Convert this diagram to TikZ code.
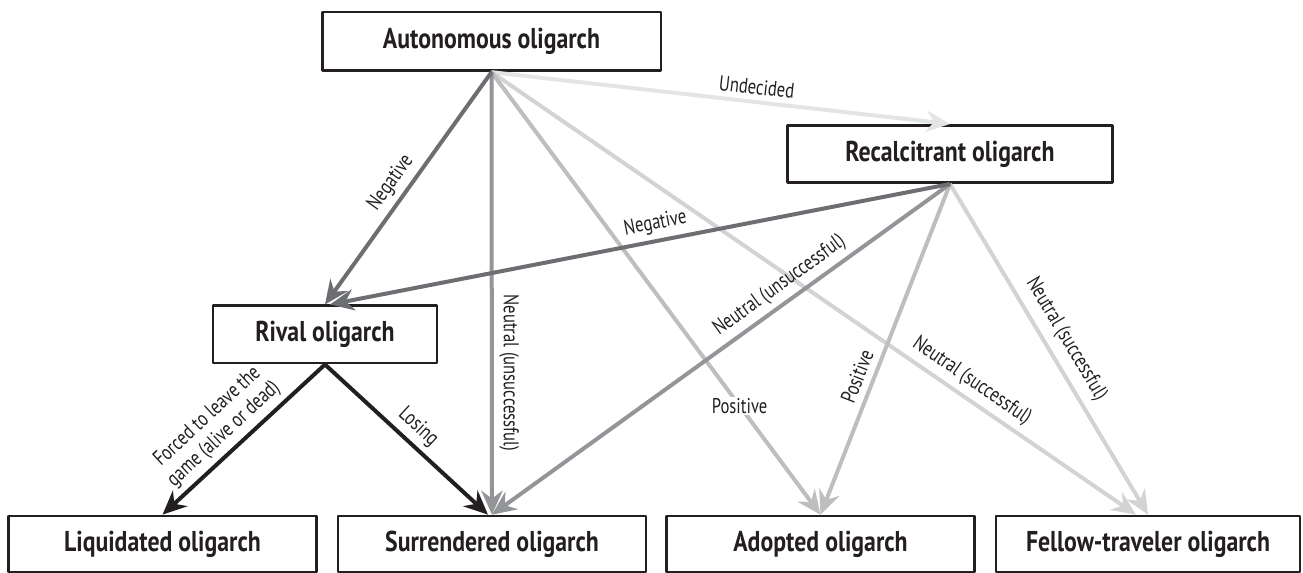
\documentclass[tikz,border=0pt]{standalone}
\usepackage{fontspec}
\setmainfont{PT Sans}[FakeStretch=0.78, BoldFeatures={FakeStretch=0.83}]
\usetikzlibrary{arrows.meta, calc}
\definecolor{boxline}{HTML}{231F20}
\definecolor{negcol}{HTML}{6D6E71}
\definecolor{neucol}{HTML}{939598}
\definecolor{poscol}{HTML}{BCBEC0}
\definecolor{succol}{HTML}{D1D3D4}
\definecolor{undcol}{HTML}{E3E4E5}
\tikzset{>={Stealth[length=18pt, width=16pt, inset=6pt]}}
\tikzset{state/.style={draw=boxline, line width=2pt, fill=white, inner sep=0pt,
    minimum width=231pt, minimum height=42pt,
    font=\fontsize{21.5}{24}\selectfont\bfseries, text=boxline}
}
\tikzset{choice/.style={->, line width=3pt}}
\tikzset{lab/.style={font=\fontsize{16}{18}\selectfont, text=boxline, sloped, above, inner sep=4pt}}

\begin{document}
\begin{tikzpicture}[x=0.75pt, y=-0.75pt, line join=round]
\useasboundingbox (0,0) rectangle (1303,573);

% the states
\node[state, minimum width=254pt, minimum height=44pt] (auton) at (491.5,41.5) {Autonomous oligarch};
\node[state, minimum width=244pt, minimum height=43pt] (recal) at (950,154) {Recalcitrant oligarch};
\node[state, minimum width=168pt, minimum height=43pt] (rival) at (325,334.5) {Rival oligarch};
\node[state] (liq) at (162.5,544) {Liquidated oligarch};
\node[state] (sur) at (492,544) {Surrendered oligarch};
\node[state] (adop) at (820.5,544) {Adopted oligarch};
\node[state, minimum width=228pt] (fel) at (1148,544) {Fellow-traveler oligarch};

% from the autonomous oligarch
\draw[choice, undcol] (auton.south) -- node[lab, pos=0.575] {Undecided} (recal.north);
\draw[choice, succol] (auton.south) -- node[lab, pos=0.73] {Neutral (successful)} ($(fel.north)+(-12,0)$);
\draw[choice, poscol] (auton.south) -- node[pos=0.754, font=\fontsize{16}{18}\selectfont, text=boxline, fill=white, inner sep=1pt] {Positive} (adop.north);
\draw[choice, neucol] (auton.south) -- node[lab, pos=0.68] {Neutral (unsuccessful)} (sur.north);
\draw[choice, negcol] (auton.south) -- node[lab, pos=0.52] {Negative} (rival.north);

% from the recalcitrant oligarch
\draw[choice, succol] (recal.south) -- node[lab, pos=0.5, inner sep=6pt] {Neutral (successful)} (fel.north);
\draw[choice, poscol] (recal.south) -- node[lab, pos=0.6, inner sep=5pt] {Positive} (adop.north);
\draw[choice, neucol] (recal.south) -- node[lab, pos=0.35] {Neutral (unsuccessful)} (sur.north);
\draw[choice, negcol] (recal.south) -- node[lab, pos=0.47] {Negative} ($(rival.north)+(5,0)$);

% from the rival oligarch
\draw[choice, boxline] (rival.south) -- node[lab, pos=0.55, align=center] {Forced to leave the\\game (alive or dead)} (liq.north);
\draw[choice, boxline] (rival.south) -- node[lab, pos=0.5] {Losing} ($(sur.north)+(-4,0)$);

\end{tikzpicture}
\end{document}
